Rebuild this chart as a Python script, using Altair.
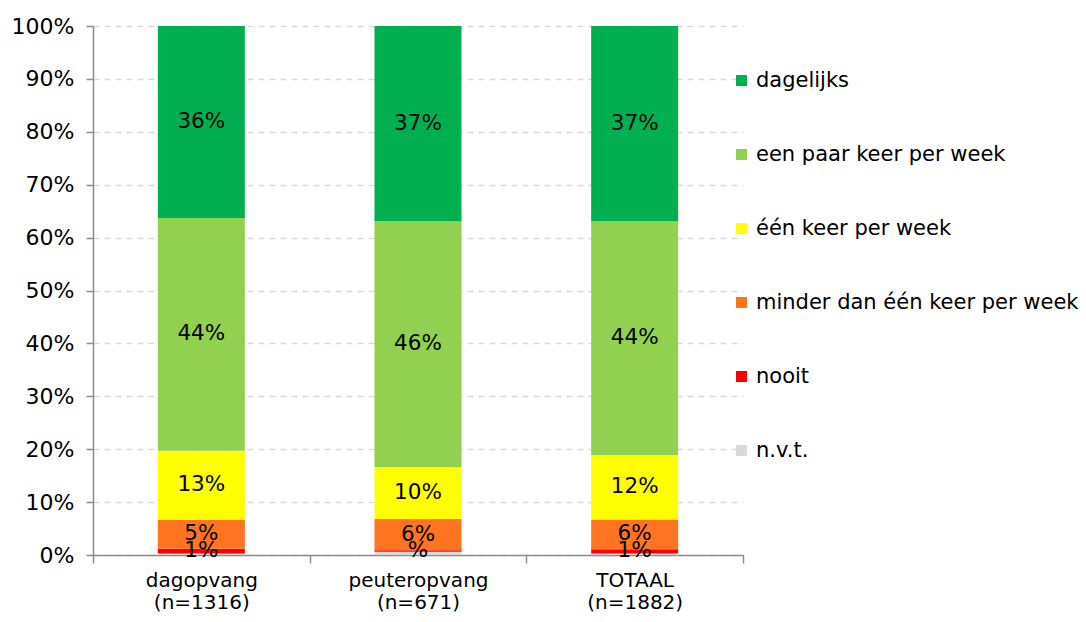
import altair as alt
import pandas as pd

categories = ["dagopvang\n(n=1316)", "peuteropvang\n(n=671)", "TOTAAL\n(n=1882)"]
series = ["n.v.t.", "nooit", "minder dan één keer per week", "één keer per week",
          "een paar keer per week", "dagelijks"]
colors = ["#D9D9D9", "#FF0000", "#FF7421", "#FFFF00", "#92D050", "#00B050"]

# values per category (percent), series order as above (bottom to top)
values_dagopvang = [0.3, 0.9, 5.4, 13.1, 44.0, 36.3]
values_peuteropvang = [0.6, 0.3, 5.9, 9.8, 46.5, 36.9]
values_totaal = [0.3, 0.8, 5.6, 12.2, 44.2, 36.9]

labels_dagopvang = ["", "1%", "5%", "13%", "44%", "36%"]
labels_peuteropvang = ["", "%", "6%", "10%", "46%", "37%"]
labels_totaal = ["", "1%", "6%", "12%", "44%", "37%"]

rows = []
for cat, vals, labs in zip(categories,
                           [values_dagopvang, values_peuteropvang, values_totaal],
                           [labels_dagopvang, labels_peuteropvang, labels_totaal]):
    for i, (s, v, l) in enumerate(zip(series, vals, labs)):
        rows.append({"cat": cat, "series": s, "ord": i, "value": v / 100.0, "label": l})
df = pd.DataFrame(rows)

FONT = "DejaVu Sans"

base = alt.Chart(df).transform_stack(
    stack="value", groupby=["cat"], as_=["v0", "v1"],
    sort=[alt.SortField("ord", order="ascending")]
).transform_calculate(mid="(datum.v0 + datum.v1) / 2")

x = alt.X("cat:N", sort=categories, title=None,
          scale=alt.Scale(paddingInner=0, paddingOuter=0),
          axis=alt.Axis(labelExpr="split(datum.label, '\\n')", labelAngle=0,
                        tickBand="extent", labelFontSize=20, labelFont=FONT,
                        labelColor="#000000", domainColor="#8C8C8C", tickColor="#8C8C8C",
                        tickSize=8, labelPadding=7, labelLineHeight=22, grid=False))

bars = base.mark_bar(size=87).encode(
    x=x,
    y=alt.Y("v0:Q", title=None,
            scale=alt.Scale(domain=[0, 1], nice=False),
            axis=alt.Axis(format=".0%", values=[i / 10 for i in range(11)],
                          labelFontSize=22, labelFont=FONT, labelColor="#000000",
                          domainColor="#8C8C8C", tickColor="#8C8C8C", tickSize=7,
                          labelPadding=12, gridColor="#D9D9D9", gridDash=[6, 5],
                          gridWidth=1.3)),
    y2="v1:Q",
    color=alt.Color("series:N", sort=series[::-1],
                    scale=alt.Scale(domain=series[::-1], range=colors[::-1]),
                    legend=alt.Legend(title=None, orient="none", legendX=638, legendY=44,
                                      symbolType="square", symbolSize=121,
                                      symbolStrokeWidth=0, labelFontSize=21,
                                      labelFont=FONT, labelColor="#000000",
                                      rowPadding=52, labelOffset=4, labelLimit=400)),
)

texts = base.mark_text(fontSize=21.5, font=FONT, color="#000000", baseline="middle").encode(
    x=alt.X("cat:N", sort=categories),
    y=alt.Y("mid:Q"),
    text="label:N",
)

chart = alt.layer(bars, texts).properties(
    width=650, height=529,
    padding={"left": 85, "top": 18, "right": 335, "bottom": 58},
    autosize=alt.AutoSizeParams(type="none"),
).configure_view(stroke=None).configure_axis(domainWidth=1.5, tickWidth=1.5)

chart.save("out.html", embed_options={"renderer": "svg", "actions": False})
